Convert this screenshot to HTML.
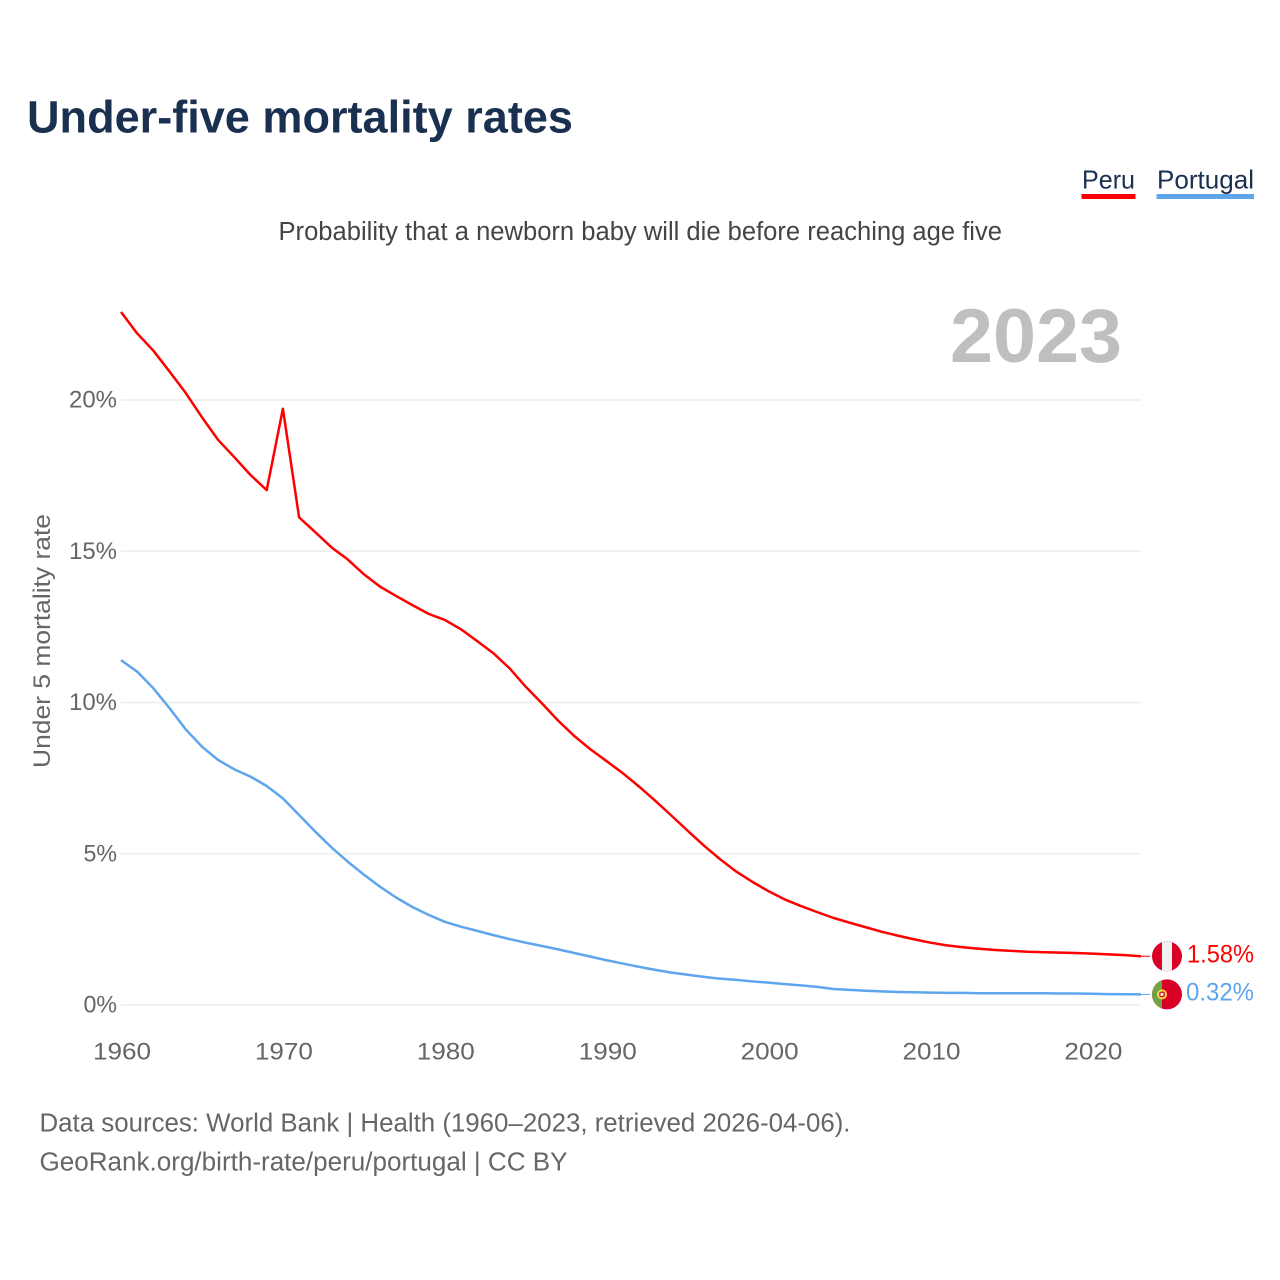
<!DOCTYPE html>
<html lang="en">
<head>
<meta charset="utf-8">
<title>Under-five mortality rates</title>
<style>
  html, body { margin: 0; padding: 0; background: #fff; }
  svg { display: block; font-family: "Liberation Sans", sans-serif; }
</style>
</head>
<body>
<svg id="chart" width="1280" height="1280" viewBox="0 0 1280 1280" xmlns="http://www.w3.org/2000/svg">
  <rect width="1280" height="1280" fill="#fff"/>
  <text x="27" y="132.5" font-size="45" font-weight="700" fill="#1a3050" textLength="546" lengthAdjust="spacingAndGlyphs">Under-five mortality rates</text>
  <g>
    <text x="1082" y="188.5" font-size="26" fill="#1a3050" textLength="53" lengthAdjust="spacingAndGlyphs">Peru</text>
    <rect x="1081.5" y="194" width="54" height="5" fill="#ff0000"/>
  </g>
  <g>
    <text x="1157" y="188.5" font-size="26" fill="#1a3050" textLength="97" lengthAdjust="spacingAndGlyphs">Portugal</text>
    <rect x="1156.5" y="194" width="97.5" height="5" fill="#5ea5ee"/>
  </g>
  <text x="278.5" y="240" font-size="25.5" fill="#444" textLength="723.5" lengthAdjust="spacingAndGlyphs">Probability that a newborn baby will die before reaching age five</text>
  <text x="950" y="362" font-size="76" font-weight="700" fill="#bfbfbf" textLength="172" lengthAdjust="spacingAndGlyphs">2023</text>
  <text transform="translate(50,768) rotate(-90)" x="0" y="0" font-size="24.5" fill="#666" textLength="254" lengthAdjust="spacingAndGlyphs">Under 5 mortality rate</text>
  <g id="grid"></g>
  <g id="yticks"></g>
  <g id="xticks"></g>
  <g id="series"></g>
  <g id="ends"></g>
  <g>
    <text x="39.5" y="1131.5" font-size="25.5" fill="#666" textLength="811" lengthAdjust="spacingAndGlyphs">Data sources: World Bank | Health (1960–2023, retrieved 2026-04-06).</text>
    <text x="39.5" y="1170.5" font-size="25.5" fill="#666" textLength="528" lengthAdjust="spacingAndGlyphs">GeoRank.org/birth-rate/peru/portugal | CC BY</text>
  </g>
</svg>
<script>
const firstYear = 1960;
const peruValues = [22.91,22.2,21.63,20.94,20.23,19.43,18.68,18.11,17.52,17.02,19.71,16.12,15.63,15.13,14.73,14.24,13.83,13.52,13.22,12.93,12.73,12.42,12.03,11.63,11.13,10.52,9.97,9.4,8.89,8.45,8.06,7.66,7.22,6.75,6.26,5.76,5.27,4.82,4.41,4.07,3.76,3.49,3.27,3.07,2.88,2.72,2.57,2.42,2.29,2.17,2.06,1.97,1.91,1.86,1.82,1.79,1.76,1.745,1.73,1.72,1.7,1.675,1.65,1.61];
const portugalValues = [11.4,11.02,10.47,9.81,9.11,8.54,8.1,7.79,7.55,7.24,6.83,6.28,5.73,5.21,4.74,4.31,3.91,3.55,3.24,2.98,2.75,2.59,2.45,2.31,2.18,2.06,1.95,1.84,1.72,1.6,1.48,1.37,1.26,1.16,1.07,1.0,0.93,0.87,0.83,0.78,0.74,0.69,0.65,0.6,0.53,0.5,0.47,0.45,0.43,0.42,0.41,0.4,0.4,0.39,0.39,0.39,0.39,0.39,0.38,0.38,0.37,0.36,0.355,0.35];
const peruPrinted = '1.58%';
const portugalPrinted = '0.32%';
const yTicks = [0,5,10,15,20];
const xTicks = [1960,1970,1980,1990,2000,2010,2020];

const NS = 'http://www.w3.org/2000/svg';
const xScale = year => 121 + (year - 1960) * (1141 - 121) / 63;
const yScale = value => 1005 - value * 30.25;

function make(tag, parent, attrs, text) {
  const el = document.createElementNS(NS, tag);
  for (const k in attrs) el.setAttribute(k, attrs[k]);
  if (text !== undefined) el.textContent = text;
  parent.appendChild(el);
  return el;
}
const gridG = document.getElementById('grid');
const yG = document.getElementById('yticks');
const xG = document.getElementById('xticks');
const seriesG = document.getElementById('series');
const endsG = document.getElementById('ends');

yTicks.forEach(t => {
  const line = make('line', gridG, {x1: 121, x2: 1141, y1: yScale(t), y2: yScale(t), stroke: '#eeeeee', 'stroke-width': 1.5});
  
  
  const label = t + '%';
  const w = (label.length - 1) * 14.5 + 19;
  const txt = make('text', yG, {x: 117, y: yScale(t) + 7.5, 'text-anchor': 'end', 'font-size': 24, fill: '#666', textLength: w, lengthAdjust: 'spacingAndGlyphs'}, label);
  
  
});

xTicks.forEach(t => {
  const txt = make('text', xG, {x: xScale(t) + 1, y: 1059.5, 'text-anchor': 'middle', 'font-size': 24, fill: '#666', textLength: 58, lengthAdjust: 'spacingAndGlyphs'}, String(t));
  
  
});

function drawSeries(name, values, color, printed) {
  const pts = values.map((v, i) => xScale(firstYear + i).toFixed(2) + ',' + yScale(v).toFixed(2)).join(' ');
  const line = make('polyline', seriesG, {points: pts, fill: 'none', stroke: color, 'stroke-width': 2.5, 'stroke-linejoin': 'round'});
  
  

  const last = values[values.length - 1];
  const ly = yScale(last);
  const conn = make('line', endsG, {x1: 1141, x2: 1150, y1: ly, y2: ly, stroke: color, 'stroke-width': 1});
  
  
  const txt = make('text', endsG, {x: 1254, y: ly + 6, 'text-anchor': 'end', 'font-size': 25, fill: color, textLength: name === 'peru' ? 67 : 68, lengthAdjust: 'spacingAndGlyphs'}, printed);
  
  
  const g = make('g', endsG, {transform: 'translate(1167,' + ly + ')'});
  
  
  return g;
}

const peruFlag = drawSeries('peru', peruValues, '#ff0000', peruPrinted);
make('circle', peruFlag, {r: 15, fill: '#d80027'});
make('path', peruFlag, {d: 'M-5,-14.1 A15,15 0 0 1 5,-14.1 L5,14.1 A15,15 0 0 1 -5,14.1 Z', fill: '#f0f0f0'});

const portugalFlag = drawSeries('portugal', portugalValues, '#5ea5ee', portugalPrinted);
make('circle', portugalFlag, {r: 15, fill: '#d80027'});
make('path', portugalFlag, {d: 'M-5,-14.1 A15,15 0 0 0 -5,14.1 Z', fill: '#6da544'});
make('circle', portugalFlag, {cx: -5, r: 4, fill: 'none', stroke: '#ffda44', 'stroke-width': 2});
make('rect', portugalFlag, {x: -7, y: -2, width: 4, height: 4, fill: '#f0f0f0', stroke: '#d80027', 'stroke-width': 1});
</script>
</body>
</html>
